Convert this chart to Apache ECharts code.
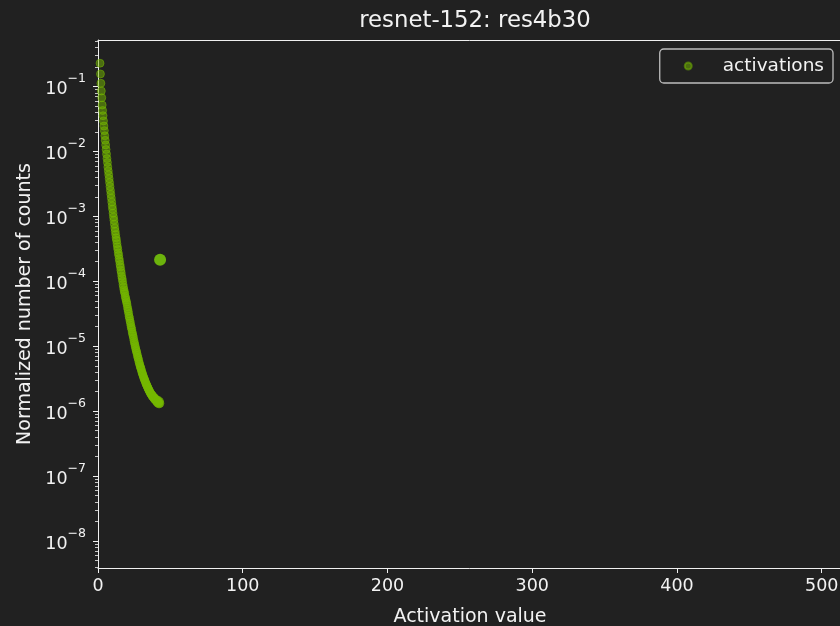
<!DOCTYPE html>
<html>
<head>
<meta charset="utf-8">
<script src="https://cdn.jsdelivr.net/npm/echarts@6/dist/echarts.min.js"></script>
<style>
html,body{margin:0;padding:0;background:#212121;}
#c{width:840px;height:626px;}
</style>
</head>
<body>
<div id="c"></div>
<script>
// Activation value (bin centres)
const actX = [
  1.4,1.7,2.0,2.3,2.6,2.9,3.2,3.5,3.8,4.1,
  4.4,4.7,5.0,5.3,5.6,5.9,6.2,6.5,6.8,7.1,
  7.4,7.7,8.0,8.3,8.6,8.9,9.2,9.5,9.8,10.1,
  10.4,10.7,11.0,11.3,11.6,11.9,12.2,12.5,12.8,13.1,
  13.4,13.7,14.0,14.3,14.6,14.9,15.2,15.5,15.8,16.1,
  16.4,16.7,17.0,17.3,17.6,17.9,18.2,18.5,18.8,19.1,
  19.4,19.7,20.0,20.3,20.6,20.9,21.2,21.5,21.8,22.1,
  22.4,22.7,23.0,23.3,23.6,23.9,24.2,24.5,24.8,25.1,
  25.4,25.7,26.0,26.3,26.6,26.9,27.2,27.5,27.8,28.1,
  28.4,28.7,29.0,29.3,29.6,29.9,30.2,30.5,30.8,31.1,
  31.4,31.7,32.0,32.3,32.6,32.9,33.2,33.5,33.8,34.1,
  34.4,34.7,35.0,35.3,35.6,35.9,36.2,36.5,36.8,37.1,
  37.4,37.7,38.0,38.3,38.6,38.9,39.2,39.5,39.8,40.1,
  40.4,40.7,41.0,41.3,41.6,41.9,42.2,42.5,42.8
];
// Normalized number of counts
const actY = [
  2.28e-1,1.56e-1,1.12e-1,8.53e-2,6.71e-2,5.19e-2,4.27e-2,3.55e-2,2.95e-2,2.46e-2,
  2.09e-2,1.74e-2,1.48e-2,1.26e-2,1.07e-2,9.12e-3,7.76e-3,6.76e-3,5.75e-3,5.01e-3,
  4.37e-3,3.80e-3,3.31e-3,2.88e-3,2.51e-3,2.19e-3,1.91e-3,1.66e-3,1.45e-3,1.29e-3,
  1.12e-3,9.77e-4,8.71e-4,7.59e-4,6.61e-4,5.89e-4,5.25e-4,4.68e-4,4.27e-4,3.80e-4,
  3.39e-4,3.09e-4,2.75e-4,2.51e-4,2.24e-4,2.04e-4,1.82e-4,1.66e-4,1.48e-4,1.35e-4,
  1.20e-4,1.10e-4,1.00e-4,8.91e-5,8.13e-5,7.41e-5,6.92e-5,6.46e-5,5.89e-5,5.50e-5,
  5.13e-5,4.79e-5,4.47e-5,4.07e-5,3.72e-5,3.47e-5,3.16e-5,2.88e-5,2.69e-5,2.46e-5,
  2.29e-5,2.09e-5,1.95e-5,1.82e-5,1.66e-5,1.55e-5,1.45e-5,1.35e-5,1.23e-5,1.15e-5,
  1.07e-5,1.00e-5,9.33e-6,8.71e-6,8.32e-6,7.76e-6,7.24e-6,6.76e-6,6.46e-6,6.03e-6,
  5.62e-6,5.37e-6,5.01e-6,4.79e-6,4.57e-6,4.37e-6,4.07e-6,3.89e-6,3.72e-6,3.55e-6,
  3.39e-6,3.24e-6,3.09e-6,3.02e-6,2.88e-6,2.75e-6,2.63e-6,2.57e-6,2.46e-6,2.40e-6,
  2.29e-6,2.24e-6,2.14e-6,2.09e-6,2.04e-6,1.95e-6,1.91e-6,1.86e-6,1.82e-6,1.78e-6,
  1.70e-6,1.74e-6,1.66e-6,1.62e-6,1.58e-6,1.62e-6,1.51e-6,1.55e-6,1.48e-6,1.51e-6,
  1.41e-6,1.45e-6,1.35e-6,1.48e-6,1.32e-6,1.38e-6,1.29e-6,1.41e-6,1.32e-6
];
// The single large point
const outlierX = [42.9];
const outlierY = [2.15e-4];

const xTicks = [0, 100, 200, 300, 400, 500];
const yTicks = [1e-8, 1e-7, 1e-6, 1e-5, 1e-4, 1e-3, 1e-2, 1e-1];
const minorMult = [2, 3, 4, 5, 6, 7, 8, 9];
const minorExp = [-9, -8, -7, -6, -5, -4, -3, -2, -1];

const xMin = 0, xMax = 514;
const yMin = 3.84e-9, yMax = 0.52;

const yMinorTicks = [];
minorExp.forEach(e => minorMult.forEach(m => {
  const v = m * Math.pow(10, e);
  if (v > yMin && v < yMax) yMinorTicks.push(v);
}));

const FONT = 'DejaVu Sans';
const TXT = '#f2f2f2';
const AX = '#f0f0f0';
const GREEN = '#76b900';

const chart = echarts.init(document.getElementById('c'), null, {renderer: 'canvas'});
chart.setOption({
  animation: false,
  backgroundColor: '#212121',
  textStyle: {fontFamily: FONT},
  title: {
    text: 'resnet-152: res4b30',
    left: 470,
    top: 5,
    textAlign: 'center',
    textStyle: {color: TXT, fontSize: 22.8, fontWeight: 'normal', fontFamily: FONT}
  },
  legend: {
    data: ['activations'],
    right: 7,
    top: 49,
    orient: 'vertical',
    padding: [6, 9, 6, 24],
    itemWidth: 7,
    itemHeight: 7,
    icon: 'circle',
    borderColor: '#bdbdbd',
    borderWidth: 1.3,
    borderRadius: 4,
    backgroundColor: '#212121',
    textStyle: {color: TXT, fontSize: 18.5, fontFamily: FONT, padding: [0, 0, 0, 26], lineHeight: 22}
  },
  grid: {
    left: 98, top: 40, width: 744, height: 528,
    show: false,
    containLabel: false,
    outerBoundsMode: 'none'
  },
  xAxis: [{
    type: 'value',
    min: xMin, max: xMax,
    name: 'Activation value',
    nameLocation: 'middle',
    nameGap: 40,
    nameTextStyle: {color: TXT, fontSize: 19, fontFamily: FONT},
    axisLine: {show: true, lineStyle: {color: AX, width: 1}},
    axisTick: {show: true, length: 5, lineStyle: {color: AX, width: 1}, customValues: xTicks},
    axisLabel: {color: TXT, fontSize: 17.5, fontFamily: FONT, margin: 9, customValues: xTicks},
    splitLine: {show: false}
  }, {
    type: 'value',
    position: 'top',
    min: xMin, max: xMax,
    axisLine: {show: true, lineStyle: {color: AX, width: 1}},
    axisTick: {show: false},
    axisLabel: {show: false},
    splitLine: {show: false}
  }],
  yAxis: [{
    type: 'log',
    logBase: 10,
    min: yMin, max: yMax,
    name: 'Normalized number of counts',
    nameLocation: 'middle',
    nameGap: 62,
    nameTextStyle: {color: TXT, fontSize: 19, fontFamily: FONT},
    axisLine: {show: true, lineStyle: {color: AX, width: 1}},
    axisTick: {show: true, length: 5, lineStyle: {color: AX, width: 1}, customValues: yTicks},
    axisLabel: {
      customValues: yTicks,
      margin: 12,
      padding: [0, 0, 2, 0],
      formatter: v => '{b|10}{s|\u2212' + Math.round(-Math.log10(v)) + '}',
      rich: {
        b: {fontSize: 17.5, fontFamily: FONT, color: TXT, lineHeight: 26, verticalAlign: 'bottom'},
        s: {fontSize: 12.5, fontFamily: FONT, color: TXT, lineHeight: 12, verticalAlign: 'top'}
      }
    },
    splitLine: {show: false}
  }, {
    type: 'log',
    logBase: 10,
    min: yMin, max: yMax,
    position: 'left',
    axisLine: {show: false},
    axisTick: {show: true, length: 3, lineStyle: {color: AX, width: 0.8}, customValues: yMinorTicks},
    axisLabel: {show: false},
    splitLine: {show: false}
  }],
  series: [{
    name: 'activations',
    type: 'scatter',
    xAxisIndex: 0,
    yAxisIndex: 0,
    symbol: 'circle',
    symbolSize: 8,
    data: actX.map((x, i) => [x, actY[i]]),
    itemStyle: {color: GREEN, opacity: 0.5, borderColor: GREEN, borderWidth: 1},
    z: 3
  }, {
    name: 'outlier',
    type: 'scatter',
    xAxisIndex: 0,
    yAxisIndex: 0,
    symbol: 'circle',
    symbolSize: 12,
    data: outlierX.map((x, i) => [x, outlierY[i]]),
    itemStyle: {color: '#6cb30c', opacity: 1},
    z: 4
  }]
});
</script>
</body>
</html>
